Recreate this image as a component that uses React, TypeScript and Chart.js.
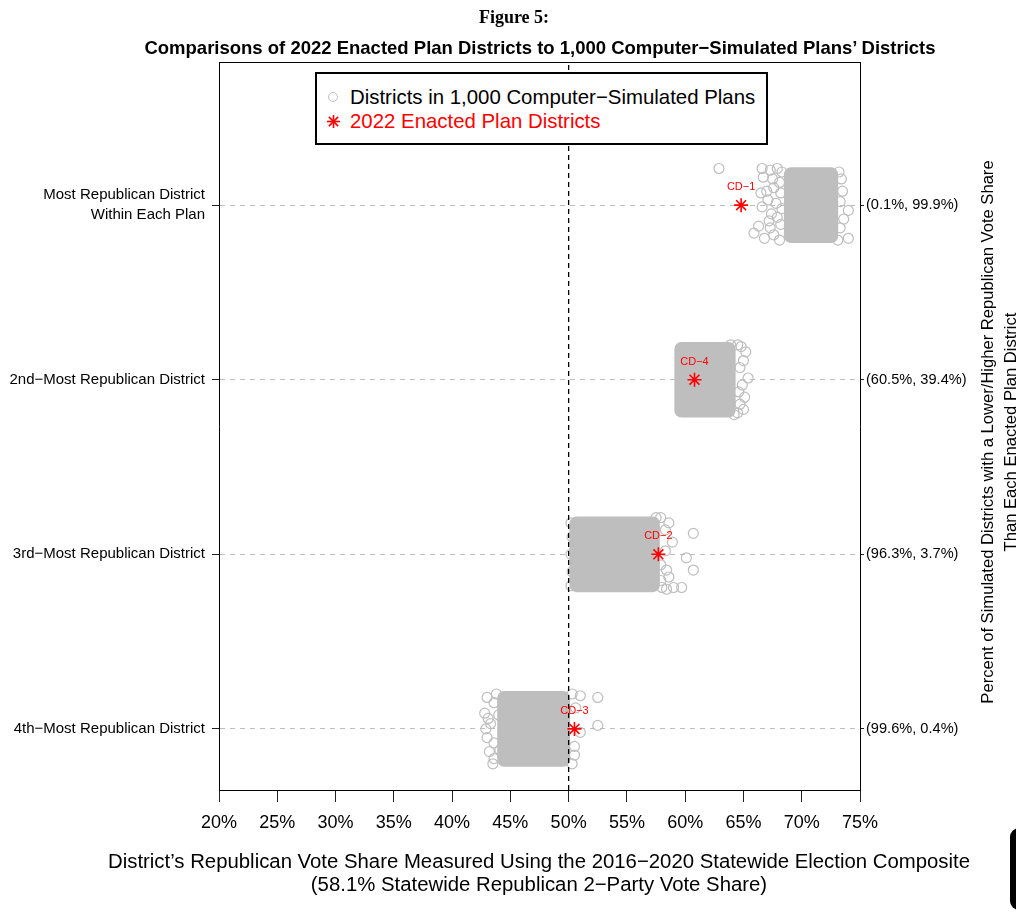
import React, { useEffect, useRef } from "react";
import { Chart, registerables } from "chart.js";

Chart.register(...registerables);

const SANS = "'Liberation Sans', Arial, Helvetica, sans-serif";
const SERIF = "'Liberation Serif', 'Times New Roman', serif";

// District ranks, bottom (4th-most Republican) to top (most Republican)
const districtRanks = [1, 2, 3, 4];
const districtLabels: string[][] = [
  ["4th−Most Republican District"],
  ["3rd−Most Republican District"],
  ["2nd−Most Republican District"],
  ["Most Republican District", "Within Each Plan"],
];
// Share of simulated districts lower / higher than the enacted district
const percentileLabels = ["(99.6%, 0.4%)", "(96.3%, 3.7%)", "(60.5%, 39.4%)", "(0.1%, 99.9%)"];

// Enacted plan districts (Republican vote share, %)
const enactedNames = ["CD−3", "CD−2", "CD−4", "CD−1"];
const enactedShares = [50.5, 57.7, 60.8, 64.8];

// Dense middle of each simulated distribution: [low %, high %]
const simulatedBulk: [number, number][] = [
  [43.9, 50.1],
  [50.1, 57.8],
  [59.1, 64.3],
  [68.5, 73.1],
];

// Individual simulated districts around the dense middle: [share %, vertical jitter]
const simulated4th: [number, number][] = [
  [43.0, 0.18], [43.6, 0.15], [42.8, 0.09], [43.1, 0.06], [43.3, 0.03], [42.9, 0.0],
  [43.0, -0.05], [43.6, -0.08], [43.2, -0.13], [43.6, -0.17], [43.8, 0.2], [43.5, -0.2],
  [51.0, 0.19], [52.5, 0.18], [50.6, 0.12], [52.5, 0.02], [51.0, -0.02], [50.5, -0.1],
  [50.5, -0.15], [50.3, 0.2], [50.3, -0.2], [44.0, 0.08], [44.1, -0.12],
];
const simulated3rd: [number, number][] = [
  [57.9, 0.21], [58.6, 0.18], [60.7, 0.12], [58.3, 0.14], [58.9, 0.07], [58.3, 0.02],
  [60.1, -0.02], [57.9, -0.06], [58.4, -0.09], [60.7, -0.09], [58.6, -0.13], [58.0, -0.19],
  [59.0, -0.19], [59.7, -0.19], [58.4, -0.2], [57.5, 0.21], [57.9, -0.15],
  [50.3, 0.1], [50.2, 0.0], [50.3, -0.1], [50.2, 0.18], [50.2, -0.18],
];
const simulated2nd: [number, number][] = [
  [64.8, 0.19], [65.2, 0.16], [65.0, 0.11], [64.7, 0.07], [65.4, 0.01], [64.9, -0.03],
  [64.6, -0.07], [65.1, -0.1], [64.7, -0.14], [65.0, -0.17], [64.5, 0.2], [64.5, -0.19],
  [63.9, 0.2], [64.2, -0.2],
];
const simulatedMost: [number, number][] = [
  [62.9, 0.21],
  [66.6, 0.21], [67.3, 0.2], [67.9, 0.21], [68.3, 0.19],
  [66.7, 0.16], [67.5, 0.15], [68.1, 0.13],
  [66.5, 0.07], [67.0, 0.08], [67.6, 0.1], [68.2, 0.07],
  [67.1, 0.03], [66.6, -0.01], [67.8, 0.01], [68.3, -0.02],
  [67.4, -0.05], [67.9, -0.07], [67.2, -0.09], [68.2, -0.11],
  [67.3, -0.13], [65.9, -0.16], [66.8, -0.19], [67.6, -0.17], [68.1, -0.2], [66.3, -0.12],
  [73.2, 0.19], [73.4, 0.15], [73.5, 0.08], [73.3, 0.02], [74.0, -0.03], [73.6, -0.08],
  [73.3, -0.13], [74.0, -0.19], [73.1, -0.2],
];
const simulatedByRank = [simulated4th, simulated3rd, simulated2nd, simulatedMost];

const xTicks = [20, 25, 30, 35, 40, 45, 50, 55, 60, 65, 70, 75];
const X_MIN = 20;
const X_MAX = 75;
const Y_MIN = 0.65;
const Y_MAX = 4.82;
const MAJORITY = 50;

const W = 1016;
const H = 919;

const enactedLabelPlugin = {
  id: "enactedLabels",
  afterDatasetsDraw(chart: any) {
    const { ctx, scales } = chart;
    ctx.save();
    ctx.fillStyle = "#FF0000";
    ctx.font = `11px ${SANS}`;
    ctx.textAlign = "center";
    ctx.textBaseline = "middle";
    enactedShares.forEach((v, i) => {
      const px = scales.x.getPixelForValue(v);
      const py = scales.y.getPixelForValue(districtRanks[i]);
      ctx.fillText(enactedNames[i], px, py - 18);
    });
    ctx.restore();
  },
};

function Plot() {
  const ref = useRef<HTMLCanvasElement | null>(null);

  useEffect(() => {
    const canvas = ref.current;
    if (!canvas) return;

    const simulatedPoints = simulatedByRank.flatMap((pts, i) =>
      pts.map(([share, jit]) => ({ x: share, y: districtRanks[i] + jit }))
    );

    const chart = new Chart(canvas, {
      type: "scatter",
      data: {
        datasets: [
          {
            type: "scatter",
            label: "2022 Enacted Plan Districts",
            data: enactedShares.map((v, i) => ({ x: v, y: districtRanks[i] })),
            pointStyle: "star",
            pointRadius: 7,
            pointBorderColor: "#FF0000",
            pointBackgroundColor: "#FF0000",
            pointBorderWidth: 1.6,
            xAxisID: "x",
            yAxisID: "y",
            order: 0,
          } as any,
          {
            type: "line",
            label: "50%",
            data: [
              { x: MAJORITY, y: Y_MIN },
              { x: MAJORITY, y: Y_MAX },
            ],
            borderColor: "#000000",
            borderWidth: 1.3,
            borderDash: [5, 4],
            pointRadius: 0,
            xAxisID: "x",
            yAxisID: "y",
            order: 1,
          } as any,
          {
            type: "scatter",
            label: "Districts in 1,000 Computer−Simulated Plans",
            data: simulatedPoints,
            pointStyle: "circle",
            pointRadius: 5,
            pointBorderColor: "#BEBEBE",
            pointBackgroundColor: "rgba(0,0,0,0)",
            pointBorderWidth: 1.2,
            xAxisID: "x",
            yAxisID: "y",
            order: 2,
          } as any,
          {
            type: "bar",
            label: "simulated bulk",
            indexAxis: "y",
            data: simulatedBulk.map((r, i) => ({ x: r, y: districtRanks[i] })),
            backgroundColor: "#BEBEBE",
            borderWidth: 0,
            borderRadius: 7,
            borderSkipped: false,
            barThickness: 75,
            xAxisID: "x",
            yAxisID: "y",
            order: 3,
          } as any,
        ],
      },
      options: {
        responsive: false,
        animation: false,
        devicePixelRatio: 1,
        layout: { padding: { top: 62, left: 0, right: 0, bottom: 0 } },
        plugins: {
          legend: { display: false },
          tooltip: { enabled: false },
        },
        scales: {
          x: {
            type: "linear",
            position: "bottom",
            min: X_MIN,
            max: X_MAX,
            offset: false,
            afterBuildTicks: (s: any) => {
              s.ticks = xTicks.map((v) => ({ value: v }));
            },
            afterFit: (s: any) => {
              s.height = 129;
            },
            ticks: {
              callback: (v: any) => `${v}%`,
              font: { family: SANS, size: 18 },
              color: "#000",
              padding: 10,
              maxRotation: 0,
              autoSkip: false,
            },
            grid: {
              offset: false,
              drawOnChartArea: false,
              drawTicks: true,
              tickLength: 12,
              tickColor: "#222",
              tickWidth: 1,
            },
            border: { display: true, color: "#000", width: 1 },
          },
          x2: {
            type: "linear",
            position: "top",
            min: X_MIN,
            max: X_MAX,
            offset: false,
            afterFit: (s: any) => {
              s.height = 0;
            },
            ticks: { display: false },
            grid: { display: false, drawTicks: false, offset: false },
            border: { display: true, color: "#000", width: 1 },
          },
          y: {
            type: "linear",
            position: "left",
            min: Y_MIN,
            max: Y_MAX,
            offset: false,
            afterBuildTicks: (s: any) => {
              s.ticks = districtRanks.map((v) => ({ value: v }));
            },
            afterFit: (s: any) => {
              s.width = 219;
            },
            ticks: {
              callback: (v: any) => districtLabels[districtRanks.indexOf(v)] ?? "",
              font: { family: SANS, size: 15, lineHeight: 1.35 },
              color: "#000",
              padding: 7,
              autoSkip: false,
            },
            grid: {
              offset: false,
              color: "#BEBEBE",
              lineWidth: 1,
              drawTicks: true,
              tickLength: 7,
              tickColor: "#222",
              tickBorderDash: [],
            },
            border: { display: true, color: "#000", width: 1, dash: [5, 5] },
          },
          y2: {
            type: "linear",
            position: "right",
            min: Y_MIN,
            max: Y_MAX,
            offset: false,
            afterBuildTicks: (s: any) => {
              s.ticks = districtRanks.map((v) => ({ value: v }));
            },
            afterFit: (s: any) => {
              s.width = 156;
            },
            ticks: {
              callback: (v: any) => percentileLabels[districtRanks.indexOf(v)] ?? "",
              font: { family: SANS, size: 14.6 },
              color: "#000",
              padding: 2,
              autoSkip: false,
            },
            grid: {
              offset: false,
              drawOnChartArea: false,
              drawTicks: true,
              tickLength: 4,
              tickColor: "#222",
            },
            border: { display: true, color: "#000", width: 1 },
          },
        },
      } as any,
      plugins: [enactedLabelPlugin],
    });

    return () => chart.destroy();
  }, []);

  return (
    <canvas
      ref={ref}
      width={W}
      height={H}
      style={{ position: "absolute", left: 0, top: 0, width: W, height: H }}
    />
  );
}

function Asterisk({ size, color }: { size: number; color: string }) {
  const r = size / 2;
  const d = r * Math.SQRT1_2;
  return (
    <svg width={size + 2} height={size + 2} viewBox={`${-r - 1} ${-r - 1} ${size + 2} ${size + 2}`}>
      <g stroke={color} strokeWidth={1.6}>
        <line x1={-r} y1={0} x2={r} y2={0} />
        <line x1={0} y1={-r} x2={0} y2={r} />
        <line x1={-d} y1={-d} x2={d} y2={d} />
        <line x1={-d} y1={d} x2={d} y2={-d} />
      </g>
    </svg>
  );
}

export default function App() {
  const abs = (style: React.CSSProperties): React.CSSProperties => ({
    position: "absolute",
    whiteSpace: "nowrap",
    ...style,
  });

  return (
    <div
      style={{
        position: "fixed",
        left: 0,
        top: 0,
        width: W,
        height: H,
        background: "#fff",
        overflow: "hidden",
      }}
    >
      <Plot />

      <div
        style={abs({
          left: 514,
          top: 7,
          transform: "translateX(-50%)",
          font: `bold 18px ${SERIF}`,
          lineHeight: "20px",
          color: "#000",
        })}
      >
        Figure 5:
      </div>
      <div
        style={abs({
          left: 540,
          top: 37,
          transform: "translateX(-50%)",
          font: `bold 18.5px ${SANS}`,
          lineHeight: "22px",
          color: "#000",
        })}
      >
        Comparisons of 2022 Enacted Plan Districts to 1,000 Computer−Simulated Plans’ Districts
      </div>

      {/* legend */}
      <div
        style={abs({
          left: 315,
          top: 72,
          width: 453,
          height: 73,
          boxSizing: "border-box",
          border: "2px solid #000",
          background: "#fff",
          font: `20.4px ${SANS}`,
        })}
      >
        <div style={abs({ left: 11, top: 11, height: 24, display: "flex", alignItems: "center" })}>
          <span
            style={{
              display: "inline-block",
              width: 10,
              height: 10,
              borderRadius: "50%",
              border: "1.3px solid #BEBEBE",
              boxSizing: "border-box",
            }}
          />
          <span style={{ marginLeft: 12, color: "#000", lineHeight: "24px" }}>
            Districts in 1,000 Computer−Simulated Plans
          </span>
        </div>
        <div style={abs({ left: 9, top: 35, height: 24, display: "flex", alignItems: "center" })}>
          <Asterisk size={13} color="#FF0000" />
          <span style={{ marginLeft: 9, color: "#FF0000", lineHeight: "24px" }}>
            2022 Enacted Plan Districts
          </span>
        </div>
      </div>

      {/* x-axis title */}
      <div
        style={abs({
          left: 539,
          top: 850,
          transform: "translateX(-50%)",
          font: `20.35px ${SANS}`,
          lineHeight: "23px",
          textAlign: "center",
          color: "#000",
        })}
      >
        District’s Republican Vote Share Measured Using the 2016−2020 Statewide Election Composite
        <br />
        (58.1% Statewide Republican 2−Party Vote Share)
      </div>

      {/* right-hand axis title */}
      <div
        style={abs({
          left: 999,
          top: 432,
          transform: "translate(-50%, -50%) rotate(-90deg)",
          font: `16.6px ${SANS}`,
          lineHeight: "23px",
          textAlign: "center",
          color: "#000",
        })}
      >
        Percent of Simulated Districts with a Lower/Higher Republican Vote Share
        <br />
        Than Each Enacted Plan District
      </div>

      <div
        style={{
          position: "absolute",
          left: 1010,
          top: 828,
          width: 24,
          height: 82,
          borderRadius: 9,
          background: "#000",
        }}
      />
    </div>
  );
}
